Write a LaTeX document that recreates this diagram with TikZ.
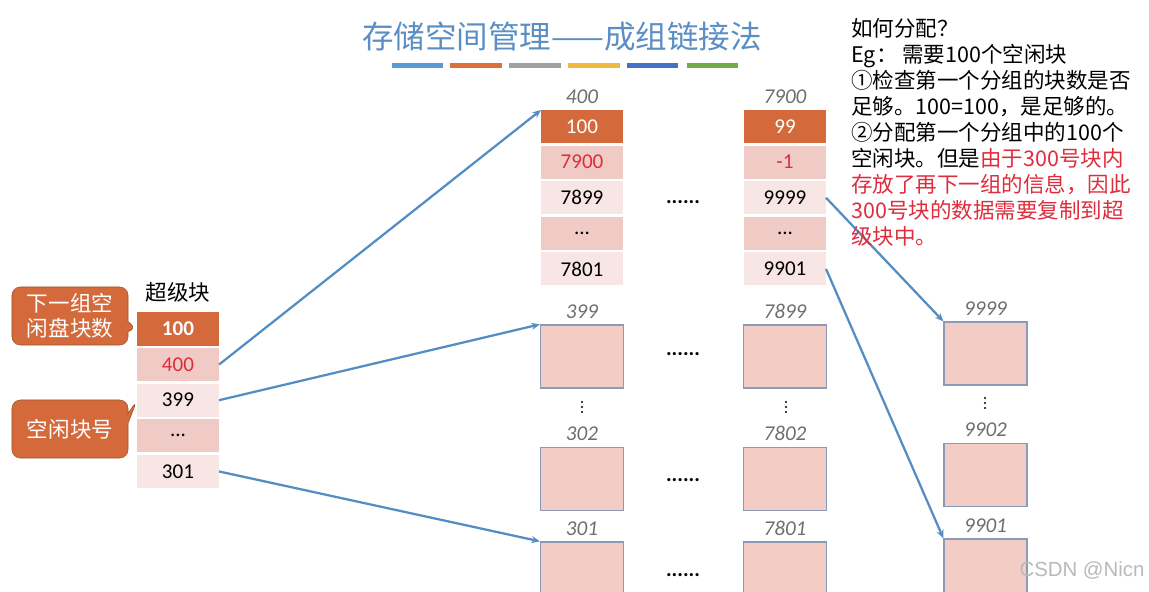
\documentclass[tikz,border=0pt]{standalone}
\usepackage{fontspec}
\setmainfont{Carlito}
\newfontfamily\cjk{Noto Sans CJK SC}
\newfontfamily\wmfont{Liberation Sans}
\usepackage{xcolor}
\usetikzlibrary{arrows.meta,positioning,shapes.callouts}

\definecolor{titleblue}{RGB}{91,143,196}
\definecolor{cellorange}{RGB}{212,106,60}
\definecolor{cellmid}{RGB}{240,203,198}
\definecolor{celllight}{RGB}{248,230,228}
\definecolor{blkfill}{RGB}{244,204,198}
\definecolor{blkedge}{RGB}{138,155,184}
\definecolor{arrblue}{RGB}{84,141,196}
\definecolor{numred}{RGB}{222,45,60}
\definecolor{lblgray}{RGB}{110,110,110}
\definecolor{tipedge}{RGB}{160,85,45}
\definecolor{barblue}{RGB}{91,155,213}
\definecolor{barorange}{RGB}{222,110,60}
\definecolor{bargray}{RGB}{160,160,160}
\definecolor{baryellow}{RGB}{240,185,65}
\definecolor{bardblue}{RGB}{68,114,196}
\definecolor{bargreen}{RGB}{112,173,71}

\begin{document}
\begin{tikzpicture}[
  x=0.025cm, y=-0.025cm,
  cell/.style={minimum width=2.05cm, minimum height=0.825cm, inner sep=0pt,
               outer sep=0pt, font=\fontsize{15}{18}\selectfont},
  cellhead/.style={cell, fill=cellorange, text=white},
  cellband/.style={cell, fill=cellmid},
  cellplain/.style={cell, fill=celllight},
  blk/.style={draw=blkedge, line width=0.9pt, fill=blkfill,
              minimum width=2.075cm, minimum height=1.575cm, inner sep=0pt},
  lbl/.style={text=lblgray, font=\fontsize{15}{18}\selectfont\itshape, inner sep=1pt},
  tip/.style={rectangle callout, rounded corners=6pt, draw=tipedge, fill=cellorange,
              text=white, align=center, minimum width=2.9cm, minimum height=1.45cm,
              inner sep=2pt, font=\cjk\fontsize{15.3}{17.4}\selectfont},
  dots/.style={font=\fontsize{15}{18}\selectfont\bfseries, inner sep=0pt},
  vdot/.style={fill=black, radius=1.1},
  arr/.style={-{Stealth[length=6pt,width=5pt]}, line width=1.6pt, arrblue},
  label distance=3pt
]
  \fill[white] (0,0) rectangle (1149,591);
  \useasboundingbox (0,0) rectangle (1149,591);

  % title and colour bars
  \node[text=titleblue, font=\cjk\fontsize{22.4}{26}\selectfont] (title) at (562,37)
        {存储空间管理——成组链接法};
  \fill[barblue]   (392,63) rectangle (443,68);
  \fill[barorange] (450,63) rectangle (502,68);
  \fill[bargray]   (509,63) rectangle (561,68);
  \fill[baryellow] (568,63) rectangle (620,68);
  \fill[bardblue]  (627,63) rectangle (678,68);
  \fill[bargreen]  (687,63) rectangle (738,68);

  % superblock
  \node[font=\cjk\fontsize{15.3}{18}\selectfont] (sbtitle) at (178,292) {超级块};
  \node[cellhead, font=\fontsize{15}{18}\selectfont\bfseries] (s1) at (178,329) {100};
  \node[cellband, below=0.065cm of s1, text=numred] (s2) {400};
  \node[cellplain, below=0.065cm of s2] (s3) {399};
  \node[cellband, below=0.065cm of s3] (s4) {...};
  \node[cellplain, below=0.065cm of s4] (s5) {301};

  \node[tip, callout absolute pointer={(s1.west)}] (c1) at (70,316) {下一组空\\闲盘块数};
  \node[tip, callout absolute pointer={(s3.west)}] (c2) at (70,429) {空闲块号};

  % group stored in block 400
  \node[cellhead, label={[lbl]above:400}] (g1) at (582,126.5) {100};
  \node[cellband, below=0.065cm of g1, text=numred] (g2) {7900};
  \node[cellplain, below=0.065cm of g2] (g3) {7899};
  \node[cellband, below=0.065cm of g3] (g4) {...};
  \node[cellplain, below=0.065cm of g4] (g5) {7801};

  % group stored in block 7900
  \node[cellhead, label={[lbl]above:7900}] (h1) at (785,126.5) {99};
  \node[cellband, below=0.065cm of h1, text=numred] (h2) {-1};
  \node[cellplain, below=0.065cm of h2] (h3) {9999};
  \node[cellband, below=0.065cm of h3] (h4) {...};
  \node[cellplain, below=0.065cm of h4] (h5) {9901};

  % free blocks
  \node[blk, label={[lbl]above:399}]  (b399)  at (582,356.5) {};
  \node[blk, label={[lbl]above:302}]  (b302)  at (582,479) {};
  \node[blk, label={[lbl]above:301}]  (b301)  at (582,573.5) {};
  \node[blk, label={[lbl]above:7899}] (b7899) at (785,356.5) {};
  \node[blk, label={[lbl]above:7802}] (b7802) at (785,479) {};
  \node[blk, label={[lbl]above:7801}] (b7801) at (785,573.5) {};
  \node[blk, label={[lbl]above:9999}] (b9999) at (985.5,353.5) {};
  \node[blk, label={[lbl]above:9902}] (b9902) at (985.5,475) {};
  \node[blk, label={[lbl]above:9901}] (b9901) at (985.5,570.5) {};

  \node[dots] (d1) at (683,202) {......};
  \node[dots] (d2) at (683,354) {......};
  \node[dots] (d3) at (683,480) {......};
  \node[dots] (d4) at (683,575) {......};
  \fill[vdot] (582,402) circle[] (582,407) circle[] (582,412) circle[];
  \fill[vdot] (786,402) circle[] (786,407) circle[] (786,412) circle[];
  \fill[vdot] (985,398) circle[] (985,403) circle[] (985,408) circle[];

  \draw[arr] (s2.east) -- (g1.north west);
  \draw[arr] (s3.east) -- (b399.north west);
  \draw[arr] (s5.east) -- (b301.north west);
  \draw[arr] (h3.east) -- (b9999.north west);
  \draw[arr] (h5.east) -- (b9901.north west);

  % explanation
  \node[anchor=north west, align=left, inner sep=0pt,
        font=\cjk\fontsize{15.3}{18.5}\selectfont] (note) at (851,18) {%
    如何分配？\\
    Eg： 需要100个空闲块\\
    ①检查第一个分组的块数是否\\
    足够。100=100，是足够的。\\
    ②分配第一个分组中的100个\\
    空闲块。但是\textcolor{numred}{由于300号块内}\\
    \textcolor{numred}{存放了再下一组的信息，因此}\\
    \textcolor{numred}{300号块的数据需要复制到超}\\
    \textcolor{numred}{级块中。}};

  \node[text=gray!55, font=\wmfont\fontsize{14.5}{17}\selectfont] (wm) at (1082,571) {CSDN @Nicn};
\end{tikzpicture}
\end{document}
